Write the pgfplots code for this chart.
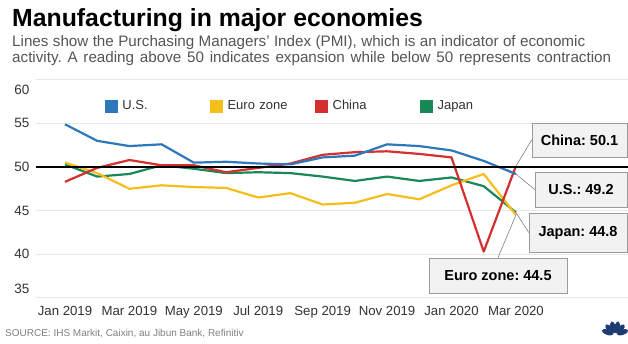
\documentclass[border=0pt]{standalone}
\usepackage{fontspec}
\setmainfont{Liberation Sans}
\usepackage{pgfplots}
\pgfplotsset{compat=1.18}
\frenchspacing
\definecolor{usblue}{HTML}{2C78BA}
\definecolor{euroyel}{HTML}{F6BE1A}
\definecolor{chinared}{HTML}{D3302F}
\definecolor{japgreen}{HTML}{1A8759}
\definecolor{gridgray}{HTML}{E8E8E8}
\definecolor{subgray}{HTML}{555555}
\definecolor{srcgray}{HTML}{808080}
\definecolor{labgray}{HTML}{333333}
\definecolor{boxfill}{HTML}{F2F2F2}
\definecolor{boxdraw}{HTML}{9A9A9A}
\definecolor{cnbcblue}{HTML}{1D3C73}

\pgfplotstableread{
i us euro china japan
0 54.9 50.5 48.3 50.3
1 53.0 49.3 49.9 48.9
2 52.4 47.5 50.8 49.2
3 52.6 47.9 50.2 50.2
4 50.5 47.7 50.2 49.8
5 50.6 47.6 49.4 49.3
6 50.4 46.5 49.9 49.4
7 50.3 47.0 50.4 49.3
8 51.1 45.7 51.4 48.9
9 51.3 45.9 51.7 48.4
10 52.6 46.9 51.8 48.9
11 52.4 46.3 51.5 48.4
12 51.9 47.9 51.1 48.8
13 50.7 49.2 40.3 47.8
14 49.2 44.5 50.1 44.8
}\pmidata

\begin{document}
\begin{tikzpicture}[x=1pt,y=1pt]
\useasboundingbox (0,0) rectangle (628,343);
\fill[white] (0,0) rectangle (628,343);

\node[anchor=base west, inner sep=0pt, font=\bfseries\fontsize{24.8}{28}\selectfont] at (12,316.3) {Manufacturing in major economies};
\node[anchor=base west, inner sep=0pt, text=subgray, font=\fontsize{15.2}{17}\selectfont] at (12,296.3) {\makebox[573pt][s]{Lines show the Purchasing Managers' Index (PMI), which is an indicator of economic}};
\node[anchor=base west, inner sep=0pt, text=subgray, font=\fontsize{15.2}{17}\selectfont] at (12,280) {\makebox[599pt][s]{activity. A reading above 50 indicates expansion while below 50 represents contraction}};

\begin{axis}[
  at={(36pt,45.2pt)}, anchor=south west,
  scale only axis, width=592pt, height=218pt,
  xmin=-0.9, xmax=17.48, ymin=35, ymax=60,
  axis line style={draw=none},
  major tick length=0pt,
  ytick={35,40,45,50,55,60},
  yticklabels={\smash{\raisebox{4.5pt}{35}},40,45,50,55,\smash{\raisebox{-14.5pt}{60}}},
  xtick={0,2,4,6,8,10,12,14},
  xticklabels={Jan 2019,Mar 2019,May 2019,Jul 2019,Sep 2019,Nov 2019,Jan 2020,Mar 2020},
  tick label style={font=\fontsize{13.2}{15}\selectfont, text=labgray},
  yticklabel style={anchor=east, xshift=-3pt, font=\fontsize{13.5}{15}\selectfont},
  xticklabel style={anchor=north, yshift=-4.7pt},
  ymajorgrids, grid style={color=gridgray, line width=0.8pt},
  clip=false,
  legend columns=4,
  legend image code/.code={\fill[#1] (0pt,-6pt) rectangle (12pt,6pt);},
  legend style={at={(0.1166,0.8798)}, anchor=west, draw=none, fill=none,
    inner sep=0pt, outer sep=0pt, font=\fontsize{13}{15}\selectfont,
    nodes={text width=87.7pt, inner sep=0pt, align=left, text=labgray},
    /tikz/every odd column/.append style={column sep=5pt}},
]
\addplot[japgreen, line width=2.2pt, line join=round, forget plot] table[x=i, y=japan] {\pmidata};
\addplot[euroyel, line width=2.2pt, line join=round, forget plot] table[x=i, y=euro] {\pmidata};
\addplot[chinared, line width=2.2pt, line join=round, forget plot] table[x=i, y=china] {\pmidata};
\addplot[usblue, line width=2.2pt, line join=round, forget plot] table[x=i, y=us] {\pmidata};
\addplot[black, line width=1.4pt, forget plot] coordinates {(-0.9,50) (17.48,50)};
\addlegendimage{usblue}\addlegendentry{U.S.}
\addlegendimage{euroyel}\addlegendentry{Euro zone}
\addlegendimage{chinared}\addlegendentry{China}
\addlegendimage{japgreen}\addlegendentry{Japan}
\coordinate (pC) at (axis cs:14,50.1);
\coordinate (pU) at (axis cs:14,49.2);
\coordinate (pJ) at (axis cs:14,44.8);
\coordinate (pE) at (axis cs:14,44.5);
\end{axis}

\tikzset{annbox/.style={draw=boxdraw, fill=boxfill, line width=0.6pt, inner sep=0pt,
  font=\bfseries\fontsize{14.5}{16}\selectfont, text=black}}
\node[annbox, minimum width=95pt, minimum height=34pt] (cb) at (579.5,203) {China: 50.1};
\node[annbox, minimum width=92pt, minimum height=35pt] (ub) at (581,153.5) {U.S.: 49.2};
\node[annbox, minimum width=98pt, minimum height=39pt] (jb) at (578,110.5) {Japan: 44.8};
\node[annbox, minimum width=138pt, minimum height=35pt] (eb) at (498,67.5) {Euro zone: 44.5};
\draw[gray, line width=0.6pt] (pC) -- (cb.west);
\draw[gray, line width=0.6pt] (pU) -- (ub.west);
\draw[gray, line width=0.6pt] (pJ) -- (jb.west);
\draw[gray, line width=0.6pt] (pE) -- (eb.north);

\node[anchor=base west, inner sep=0pt, text=srcgray, font=\fontsize{10}{11}\selectfont] at (5,6.2) {SOURCE: IHS Markit, Caixin, au Jibun Bank, Refinitiv};

\begin{scope}[shift={(615,8)}]
\foreach \a in {20,48,76,104,132,160}{
  \fill[cnbcblue, rotate=\a] (8,0) ellipse (6pt and 2.6pt);
}
\end{scope}
\end{tikzpicture}
\end{document}
